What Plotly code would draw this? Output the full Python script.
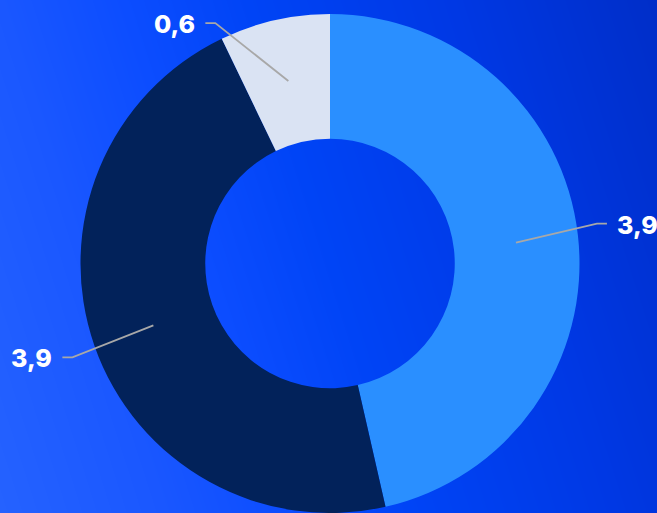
import math
import plotly.graph_objects as go

# Data
categories = ["A", "B", "C"]
values = [3.9, 3.9, 0.6]
value_labels = ["3,9", "3,9", "0,6"]
slice_colors = ["#2a8fff", "#02225a", "#dae3f3"]

# Canvas / layout constants
W, H = 657, 513
HOLE = 0.5
DOM_X = [80 / W, 580 / W]
DOM_Y = [0.0, 499 / H]

# Pie geometry in pixels (top-left origin)
cx = (DOM_X[0] + DOM_X[1]) / 2 * W
cy = H - (DOM_Y[0] + DOM_Y[1]) / 2 * H
R = min((DOM_X[1] - DOM_X[0]) * W, (DOM_Y[1] - DOM_Y[0]) * H) / 2
r_mid = (R + R * HOLE) / 2

# Leader-line elbow offsets (px) from each slice's ring midpoint
elbow_offsets = [(81, -19), (-81, 32), (-73, -58)]
tail_len = 10
text_gap = 8


def px(x):
    return x / W


def py(y):
    return 1 - y / H


fig = go.Figure()

# Background: diagonal gradient, light at bottom-left, dark at top-right
n = 12
gx = [i / (n - 1) for i in range(n)]
gy = [j / (n - 1) for j in range(n)]
gz = [[0.8 * x + 0.2 * y for x in gx] for y in gy]
fig.add_trace(go.Heatmap(
    x=gx, y=gy, z=gz,
    zmin=0, zmax=1,
    zsmooth="best",
    colorscale=[
        [0.0, "#2562ff"],
        [0.2, "#1a57ff"],
        [0.35, "#0c4dff"],
        [0.5, "#0044f6"],
        [0.75, "#0038e4"],
        [1.0, "#002ec8"],
    ],
    showscale=False, hoverinfo="skip",
    xaxis="x", yaxis="y",
))

fig.add_trace(go.Pie(
    labels=categories,
    values=values,
    hole=HOLE,
    sort=False,
    direction="clockwise",
    rotation=0,
    marker=dict(colors=slice_colors, line=dict(width=0)),
    textinfo="none",
    hoverinfo="skip",
    showlegend=False,
    domain=dict(x=DOM_X, y=DOM_Y),
))

shapes = []
annotations = []
total = sum(values)
start = 0.0
for val, lab, (ox, oy) in zip(values, value_labels, elbow_offsets):
    frac = val / total
    mid = (start + frac / 2) * 2 * math.pi
    start += frac
    ax = cx + r_mid * math.sin(mid)
    ay = cy - r_mid * math.cos(mid)
    ex, ey = ax + ox, ay + oy
    side = 1 if ox > 0 else -1
    tx = ex + side * tail_len
    shapes.append(dict(
        type="path", xref="paper", yref="paper",
        path=f"M {px(ax)} {py(ay)} L {px(ex)} {py(ey)} L {px(tx)} {py(ey)}",
        line=dict(color="#a8a8a8", width=1.8),
    ))
    annotations.append(dict(
        x=px(tx + side * text_gap), y=py(ey + 1),
        xref="paper", yref="paper",
        text=lab, showarrow=False,
        xanchor="left" if side > 0 else "right", yanchor="middle",
        font=dict(family="Inter", size=25, color="white", weight=800),
    ))

fig.update_layout(
    width=W, height=H,
    margin=dict(l=0, r=0, t=0, b=0),
    paper_bgcolor="#0044f6",
    plot_bgcolor="rgba(0,0,0,0)",
    xaxis=dict(domain=[0, 1], range=[0, 1], visible=False, fixedrange=True),
    yaxis=dict(domain=[0, 1], range=[0, 1], visible=False, fixedrange=True),
    shapes=shapes,
    annotations=annotations,
    showlegend=False,
)

fig.write_html("out.html")
